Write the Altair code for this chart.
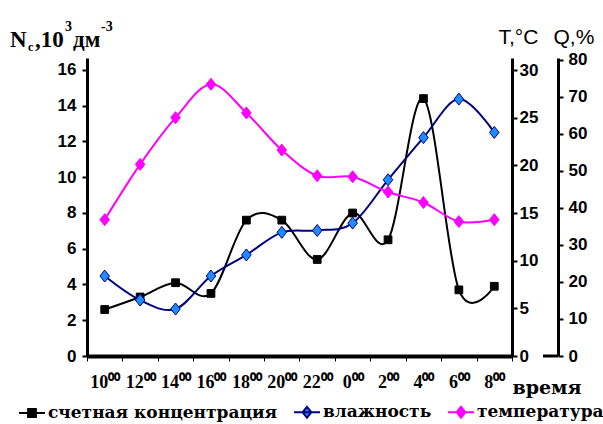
import altair as alt
import pandas as pd

# Observation times (hours) and their axis labels
hours = ["10", "12", "14", "16", "18", "20", "22", "0", "2", "4", "6", "8"]
time_labels = [h + "\u2070\u2070" for h in hours]

# Series values
concentration = [2.6, 3.3, 4.1, 3.5, 7.6, 7.6, 5.4, 8.0, 6.5, 14.4, 3.7, 3.9]   # N_c, 10^3 dm^-3
humidity = [21.6, 15.1, 12.7, 21.6, 27.3, 33.4, 33.9, 35.9, 47.6, 59.0, 69.4, 60.4]  # Q, %
temperature = [14.3, 20.1, 25.0, 28.5, 25.5, 21.6, 18.9, 18.8, 17.2, 16.1, 14.1, 14.3]  # T, °C

series_names = ["счетная концентрация", "влажность", "температура"]

rows = []
for name, vals in zip(series_names, [concentration, humidity, temperature]):
    for lab, v in zip(time_labels, vals):
        rows.append({"label": lab, "series": name, "value": v})
df = pd.DataFrame(rows)

line_colors = ["#000000", "#000080", "#FF00FF"]
fill_colors = ["#000000", "#1E8CFF", "#FF00FF"]
legend_paths = [
    "M-1,0H1M-0.3,-0.3H0.3V0.3H-0.3Z",
    "M-1,0H1M0,-0.42L0.34,0L0,0.42L-0.34,0Z",
    "M-1,0H1M0,-0.42L0.34,0L0,0.42L-0.34,0Z",
]
DIAMOND = "M0,-1L0.8,0L0,1L-0.8,0Z"

W, H = 425, 298

fill_scale = alt.Scale(domain=series_names, range=fill_colors)
stroke_scale = alt.Scale(domain=series_names, range=line_colors)

# one shared legend for fill, stroke and shape of the series
LEG = alt.Legend(
    orient="none", direction="horizontal", legendX=-69, legendY=340,
    title=None, symbolSize=676, symbolStrokeWidth=2, symbolOpacity=1,
    labelFont="DejaVu Serif", labelFontWeight="bold", labelFontSize=17,
    labelColor="black", labelOffset=2, columnPadding=12, labelLimit=400,
)

x_enc = alt.X(
    "label:N",
    sort=time_labels,
    scale=alt.Scale(type="band", paddingInner=0, paddingOuter=0),
    axis=alt.Axis(
        labelAngle=0, tickBand="extent", labelOverlap=False,
        labelFont="Liberation Serif", labelFontWeight="bold", labelFontSize=18,
        labelPadding=12, tickSize=5, domainWidth=4,
        title="время", titleX=W, titleY=37, titleAlign="left",
        titleBaseline="alphabetic", titleFont="DejaVu Serif",
        titleFontWeight="bold", titleFontSize=19,
    ),
)

y_label_style = dict(labelFont="Liberation Sans", labelFontWeight="bold",
                     labelFontSize=17, grid=False, tickSize=5, domainWidth=3,
                     tickWidth=2)


def series_layer(name, y_scale, y_axis, shape, size):
    base = alt.Chart(df).transform_filter(alt.datum.series == name)
    y_enc = alt.Y("value:Q", scale=y_scale, axis=y_axis)
    line = base.mark_line(interpolate="cardinal", strokeWidth=2).encode(
        x=x_enc, y=y_enc,
        stroke=alt.Stroke("series:N", scale=stroke_scale, legend=LEG),
    )
    pts = base.mark_point(filled=True, opacity=1, shape=shape, size=size,
                          strokeWidth=1).encode(
        x=x_enc, y=y_enc,
        fill=alt.Fill("series:N", scale=fill_scale, legend=LEG),
        stroke=alt.Stroke("series:N", scale=stroke_scale, legend=LEG),
    )
    return alt.layer(line, pts)


conc_layer = series_layer(
    series_names[0],
    alt.Scale(domain=[0, 16.67], nice=False, zero=True),
    alt.Axis(orient="left", values=list(range(0, 17, 2)), title=None,
             labelPadding=6, **y_label_style),
    "square", 60,
)
hum_layer = series_layer(
    series_names[1],
    alt.Scale(domain=[0, 80.5], nice=False, zero=True),
    alt.Axis(orient="right", offset=46, values=list(range(0, 81, 10)),
             title="Q,%", titleAngle=0, titleX=-5, titleY=-15,
             titleAlign="left", titleBaseline="alphabetic",
             titleFont="Liberation Sans", titleFontWeight="normal",
             titleFontSize=21, labelPadding=5, **y_label_style),
    DIAMOND, 144,
)
temp_layer = series_layer(
    series_names[2],
    alt.Scale(domain=[0, 31.26], nice=False, zero=True),
    alt.Axis(orient="right", offset=0, values=list(range(0, 31, 5)),
             title="T,°C", titleAngle=0, titleX=-14, titleY=-15,
             titleAlign="left", titleBaseline="alphabetic",
             titleFont="Liberation Sans", titleFontWeight="normal",
             titleFontSize=21, labelPadding=2, **y_label_style),
    DIAMOND, 144,
)

# Legend symbols: a line with the series marker
legend_layer = alt.Chart(df).transform_filter("false").mark_point(
    filled=True, opacity=1, size=676
).encode(
    shape=alt.Shape("series:N", scale=alt.Scale(domain=series_names, range=legend_paths),
                    legend=LEG),
    fill=alt.Fill("series:N", scale=fill_scale, legend=LEG),
    stroke=alt.Stroke("series:N", scale=stroke_scale, legend=LEG),
)

one = alt.Data(values=[{}])


def txt(s, x, y, size, font="Liberation Serif", weight="bold"):
    return alt.Chart(one).mark_text(
        text=s, align="left", baseline="alphabetic", font=font,
        fontWeight=weight, fontSize=size, color="black"
    ).encode(x=alt.value(x), y=alt.value(y))


# Left axis title: N_c, 10^3 дм^-3
title_parts = [
    txt("N", -77, -11, 23),
    txt("c", -59, -7, 12),
    txt(",10", -52, -11, 23),
    txt("3", -22, -27, 14),
    txt("дм", -14, -11, 23),
    txt("-3", 14, -27, 14),
]

# short baseline segment at the foot of the humidity axis
q_foot = alt.Chart(one).mark_rule(color="black", strokeWidth=3).encode(
    x=alt.value(456), x2=alt.value(471), y=alt.value(H)
)

chart = alt.layer(
    conc_layer, hum_layer, temp_layer, legend_layer, q_foot, *title_parts
).resolve_scale(y="independent").properties(
    width=W, height=H,
    padding={"left": 87, "top": 58, "right": 91, "bottom": 68},
    autosize=alt.AutoSizeParams(type="none"),
    background="white",
).configure_view(stroke=None).configure_axis(
    domainColor="black", tickColor="black", labelColor="black", titleColor="black"
)

chart.save("out.html", embed_options={"renderer": "svg", "actions": False})
